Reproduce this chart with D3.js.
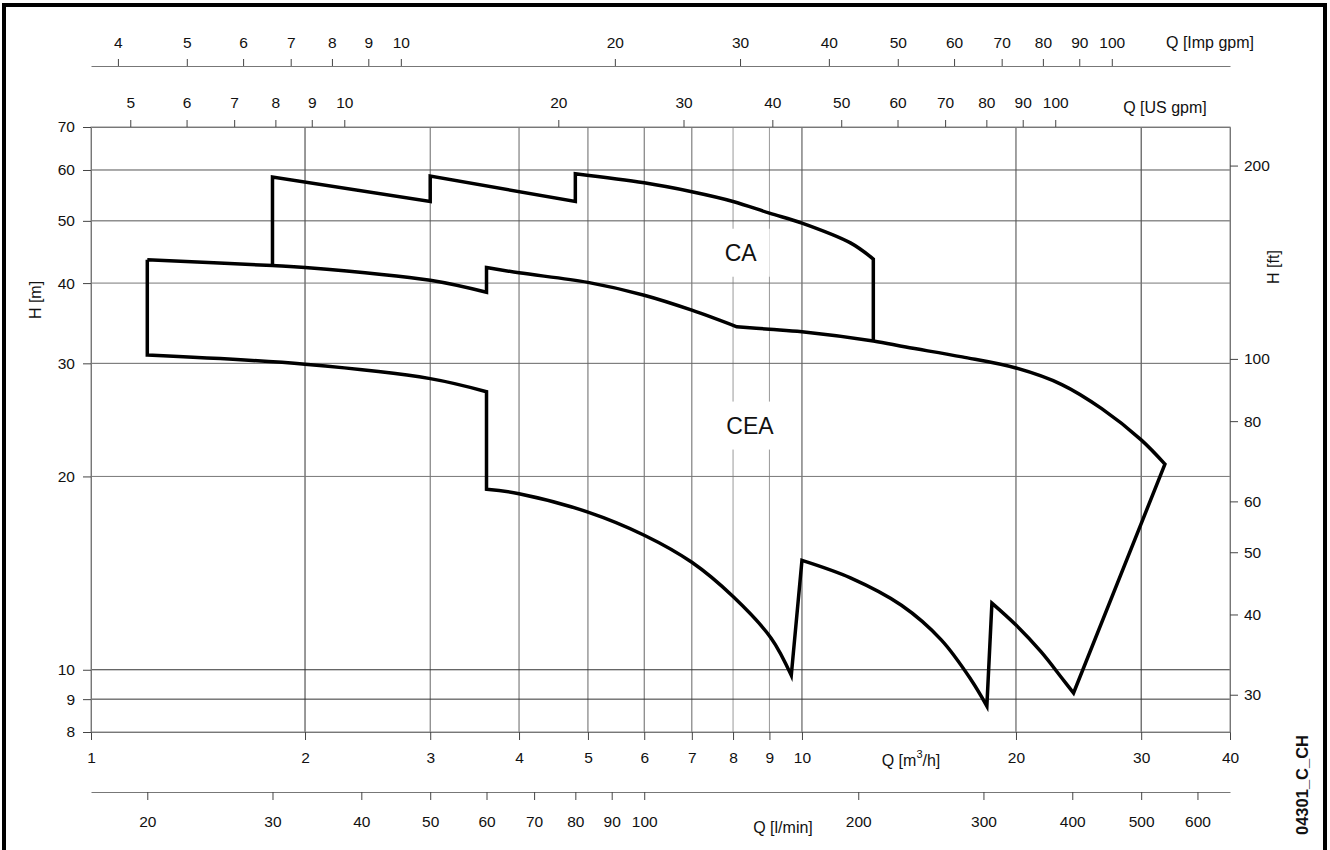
<!DOCTYPE html>
<html><head><meta charset="utf-8">
<script src="https://cdn.jsdelivr.net/npm/d3@7/dist/d3.min.js"></script>
<style>body{margin:0;background:#fff}text{font-family:"Liberation Sans",Arial,sans-serif}</style>
</head><body><svg id="c" width="1330" height="850"></svg>
<script>
// ---- data ----
const qTicksM3h = [1,2,3,4,5,6,7,8,9,10,20,30,40];
const qTicksUS  = [5,6,7,8,9,10,20,30,40,50,60,70,80,90,100];
const qTicksImp = [4,5,6,7,8,9,10,20,30,40,50,60,70,80,90,100];
const qTicksLmin = [20,30,40,50,60,70,80,90,100,200,300,400,500,600];
const hTicksM  = [70,60,50,40,30,20,10,9,8];
const hTicksFt = [200,100,80,60,50,40,30];

// CA field boundary (Q m3/h, H m)
const caQ = [1.8, 1.8, 3.0, 3.0, 4.8, 4.8, 6.0, 7.0, 8.0, 9.0, 10.0, 11.7, 12.6, 12.6];
const caH = [42.5, 58.5, 53.6, 58.7, 53.6, 59.2, 57.3, 55.5, 53.6, 51.4, 49.6, 46.2, 43.6, 32.6];
const caCorners = [0,1,2,3,4,5,12,13];

// CEA field boundary (closed)
const ceaQ = [1.2, 1.8, 2.0, 3.0, 3.6, 3.6, 4.0, 5.0, 6.0, 7.0, 8.1, 9.0, 10.0, 12.6, 14.0, 16.8, 20.0, 23.2, 26.4, 30.0, 32.4,
              24.1, 23.2, 21.7, 20.0, 18.5, 18.2, 17.3, 15.7, 13.8, 11.7, 10.0, 9.66, 9.05, 8.0, 7.0, 6.0, 5.0, 4.0, 3.6, 3.6, 3.0, 2.0, 1.2, 1.2];
const ceaH = [43.5, 42.6, 42.3, 40.4, 38.7, 42.3, 41.5, 40.1, 38.3, 36.3, 34.2, 33.9, 33.6, 32.5, 31.8, 30.7, 29.5, 27.8, 25.5, 22.8, 20.9,
              9.2, 9.71, 10.66, 11.74, 12.7, 8.78, 9.64, 11.13, 12.6, 13.9, 14.8, 9.8, 11.2, 13.0, 14.7, 16.2, 17.6, 18.8, 19.1, 27.1, 28.4, 29.9, 30.9, 43.5];
const ceaCorners = [0,4,5,10,20,21,25,26,31,32,39,40,43,44];

const fieldLabels = [{t:"CA", q:8.2, h:44.6}, {t:"CEA", q:8.45, h:24.0}];

// unit conversions
const US = 4.40287, IMP = 3.66615, LMIN = 16.6667, FT = 3.28084;

// ---- layout ----
const L = 91, R = 1230, T = 127, B = 732;
const svg = d3.select("#c");
const x = d3.scaleLog().domain([1,40]).range([L,R]);
const y = d3.scaleLog().domain([8,70]).range([B,T]);
const xUS = d3.scaleLog().domain([1*US, 40*US]).range([L,R]);
const xImp = d3.scaleLog().domain([1*IMP, 40*IMP]).range([L,R]);
const xL = d3.scaleLog().domain([1*LMIN, 40*LMIN]).range([L,R]);
const yFt = d3.scaleLog().domain([8*FT, 70*FT]).range([B,T]);

// outer frame
svg.append("rect").attr("x",4).attr("y",5).attr("width",1321).attr("height",852)
  .attr("fill","none").attr("stroke","#000").attr("stroke-width",4);

// grid
const vDark = {2:"#333",30:"#333",10:"#444",20:"#444"};
const g = svg.append("g");
qTicksM3h.filter(v=>v>1 && v<40).forEach(v=>{
  g.append("line").attr("x1",x(v)).attr("x2",x(v)).attr("y1",T).attr("y2",B)
   .attr("stroke", vDark[v] || (v===8||v===9 ? "#999" : "#666")).attr("stroke-width",1);
});
const hCol = {60:"#555",50:"#555",40:"#777",30:"#666",20:"#777",10:"#333",9:"#333"};
hTicksM.filter(v=>v>8 && v<70).forEach(v=>{
  g.append("line").attr("x1",L).attr("x2",R).attr("y1",y(v)).attr("y2",y(v))
   .attr("stroke",hCol[v]||"#666").attr("stroke-width",1);
});
// plot border
svg.append("rect").attr("x",L).attr("y",T).attr("width",R-L).attr("height",B-T)
  .attr("fill","none").attr("stroke","#888").attr("stroke-width",1);

function styleAxis(sel){
  sel.attr("font-size",null).attr("font-family",null);
  sel.select(".domain").attr("stroke","#777");
  sel.selectAll(".tick line").attr("stroke","#444");
  sel.selectAll(".tick text").style("font-size","15.5px").attr("fill","#111")
     .style("font-family",'"Liberation Sans",Arial,sans-serif');
}
const fmt = d3.format("d");

// top: Imp gpm
svg.append("g").attr("transform",`translate(0,66)`)
  .call(d3.axisTop(xImp).tickValues(qTicksImp).tickFormat(fmt).tickSize(7).tickPadding(11).tickSizeOuter(0))
  .call(styleAxis);
// top: US gpm
svg.append("g").attr("transform",`translate(0,${T})`)
  .call(d3.axisTop(xUS).tickValues(qTicksUS).tickFormat(fmt).tickSize(7).tickPadding(12).tickSizeOuter(0))
  .call(styleAxis);
// bottom: m3/h
svg.append("g").attr("transform",`translate(0,${B})`)
  .call(d3.axisBottom(x).tickValues(qTicksM3h).tickFormat(fmt).tickSize(8).tickPadding(12).tickSizeOuter(0))
  .call(styleAxis);
// bottom: l/min
svg.append("g").attr("transform",`translate(0,792)`)
  .call(d3.axisBottom(xL).tickValues(qTicksLmin).tickFormat(fmt).tickSize(8).tickPadding(16).tickSizeOuter(0))
  .call(styleAxis);
// left: H m
svg.append("g").attr("transform",`translate(${L},0)`)
  .call(d3.axisLeft(y).tickValues(hTicksM).tickFormat(fmt).tickSize(8).tickPadding(8).tickSizeOuter(0))
  .call(styleAxis);
// right: H ft
svg.append("g").attr("transform",`translate(${R},0)`)
  .call(d3.axisRight(yFt).tickValues(hTicksFt).tickFormat(fmt).tickSize(8).tickPadding(6).tickSizeOuter(0))
  .call(styleAxis);

// axis titles
const tt = (txt,xx,yy,rot,opts={})=>{
  const t = svg.append("text").attr("x",xx).attr("y",yy).attr("font-size",opts.size||16)
    .attr("fill","#111").attr("text-anchor",opts.anchor||"middle").attr("dominant-baseline","central");
  if(rot) t.attr("transform",`rotate(${rot},${xx},${yy})`);
  if(opts.bold) t.attr("font-weight","bold");
  return t.text(txt);
};
tt("Q [Imp gpm]",1210,42);
tt("Q [US gpm]",1165,107);
const qm = svg.append("text").attr("x",911).attr("y",760).attr("font-size",16).attr("fill","#111")
  .attr("text-anchor","middle").attr("dominant-baseline","central");
qm.append("tspan").text("Q [m");
qm.append("tspan").attr("font-size",11).attr("dy",-6).text("3");
qm.append("tspan").attr("dy",6).text("/h]");
tt("Q [l/min]",783,827);
tt("H [m]",35,300,-90);
tt("H [ft]",1273,267,-90);
tt("04301_C_CH",1302,785,-90,{bold:true,size:16.5});

// field boundaries: smooth pieces between corner points
const smooth = d3.line().x(d=>x(d[0])).y(d=>y(d[1])).curve(d3.curveCatmullRom.alpha(0.5));
function pathPieces(qs, hs, corners){
  const pts = qs.map((q,i)=>[q,hs[i]]);
  let d = "";
  for(let k=0;k<corners.length-1;k++){
    const piece = pts.slice(corners[k], corners[k+1]+1);
    let s = smooth(piece);
    if(k>0) s = s.replace(/^M[^A-Za-z]*/, m=>"L"+m.slice(1));
    d += s;
  }
  return d;
}
svg.append("path").attr("d",pathPieces(ceaQ,ceaH,ceaCorners)).attr("fill","none").attr("stroke","#000")
  .attr("stroke-width",3.5).attr("stroke-linejoin","miter");
svg.append("path").attr("d",pathPieces(caQ,caH,caCorners)).attr("fill","none").attr("stroke","#000")
  .attr("stroke-width",3.5).attr("stroke-linejoin","miter");

// field labels with white boxes
fieldLabels.forEach(f=>{
  const cx = x(f.q), cy = y(f.h);
  const w = f.t.length*16+26;
  svg.append("rect").attr("x",cx-w/2).attr("y",cy-24).attr("width",w).attr("height",48).attr("fill","#fff");
  svg.append("text").attr("x",cx).attr("y",cy).attr("font-size",23).attr("fill","#111")
    .attr("text-anchor","middle").attr("dominant-baseline","central").text(f.t);
});
</script></body></html>
